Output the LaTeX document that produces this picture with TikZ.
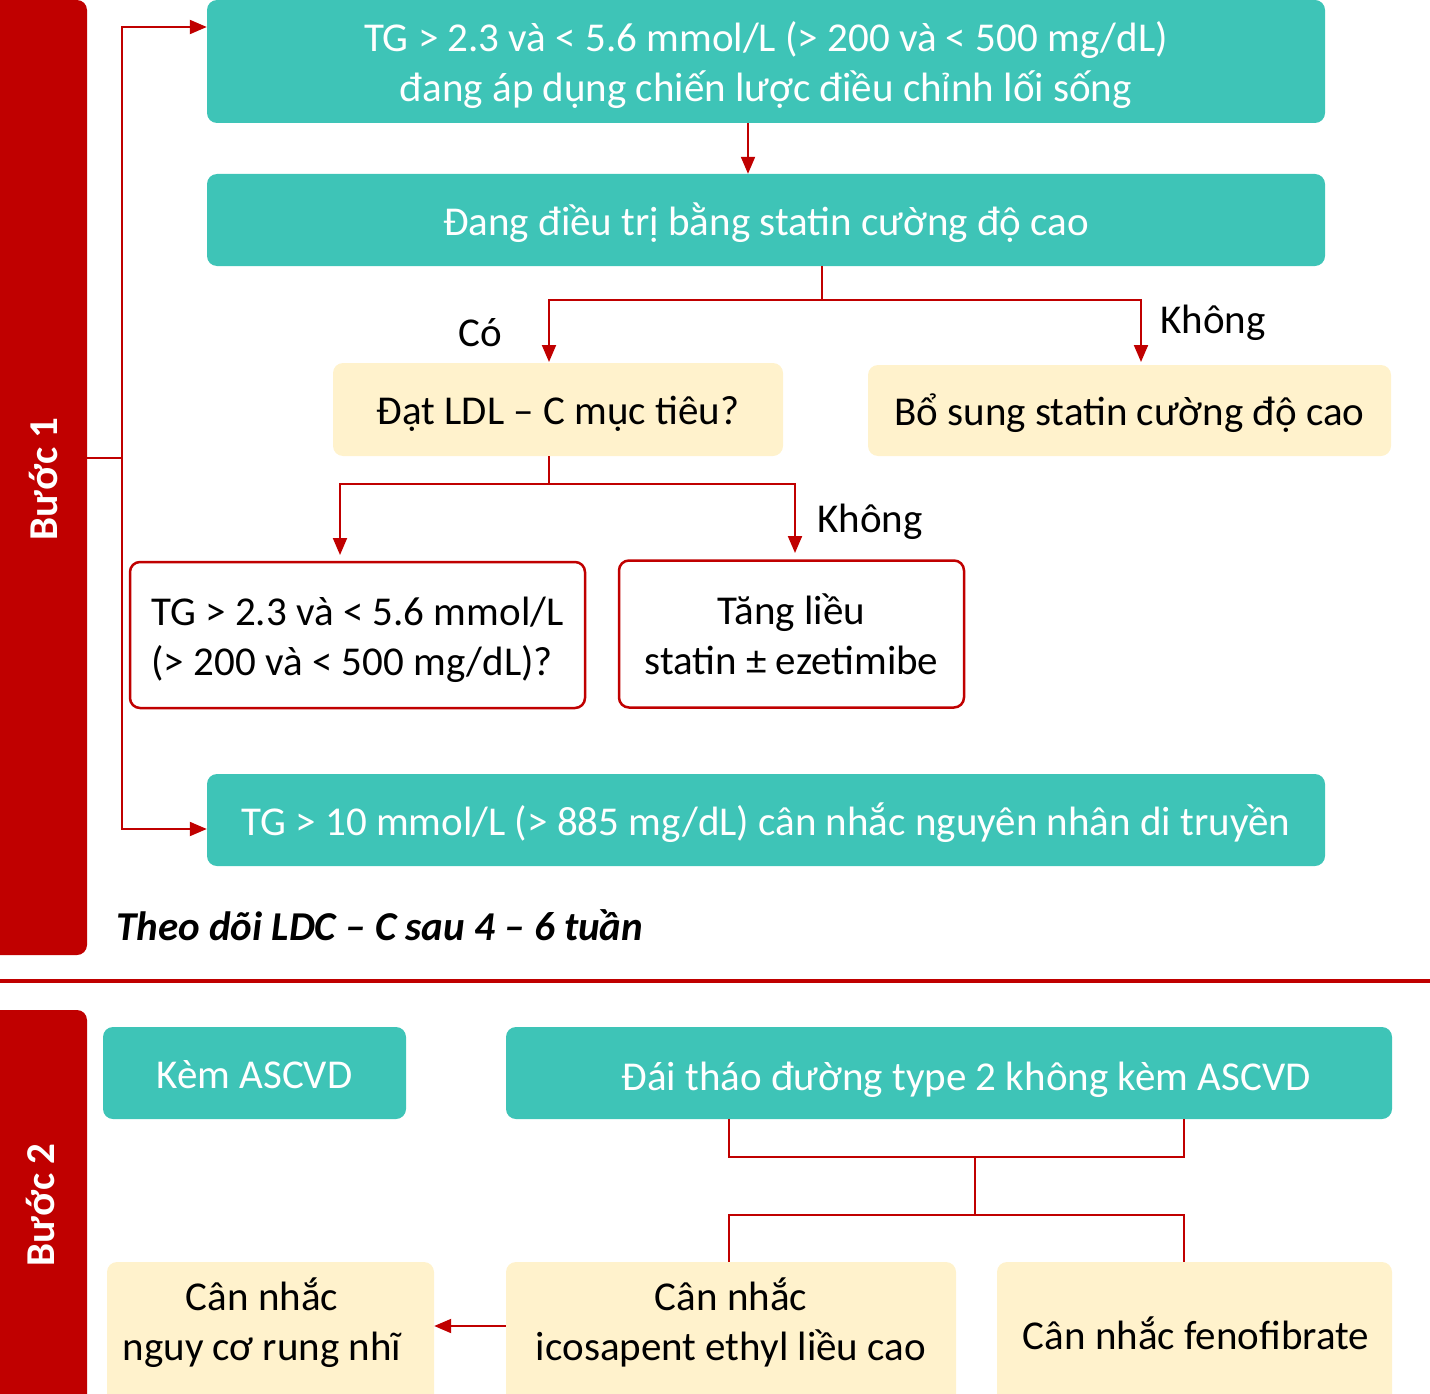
\documentclass[tikz,border=0pt]{standalone}
\usepackage{fontspec}
\setmainfont{Carlito}
\usetikzlibrary{arrows.meta}
\definecolor{teal1}{RGB}{62,196,183}
\definecolor{red1}{RGB}{192,0,0}
\definecolor{cream}{RGB}{255,242,204}
\begin{document}
\begin{tikzpicture}[x=1pt,y=-1pt,font=\fontsize{41}{50}\selectfont,
  box/.style={rectangle, rounded corners=10pt, inner sep=0pt, align=center},
  oneline/.style={text height=38pt, text depth=8pt},
  twoline/.style={text height=88pt, text depth=8pt},
  tealbox/.style={box, fill=teal1, text=white},
  creambox/.style={box, fill=cream, text=black},
  whitebox/.style={box, draw=red1, line width=2.5pt, fill=white},
  conn/.style={draw=red1, line width=2pt},
  arr/.style={conn, -{Triangle[length=17pt,width=14pt]}},
  bar/.style={fill=red1, rounded corners=10pt, inner sep=0pt},
  lbl/.style={inner sep=0pt}]
\useasboundingbox (0,0) rectangle (1430,1394);
\begin{scope}
\clip (0,0) rectangle (1430,1394);
% side bars
\node[bar, minimum width=102pt, minimum height=955pt] (bar1) at (36,477.5) {};
\node[bar, minimum width=102pt, minimum height=400pt] (bar2) at (36,1210) {};
\node[rotate=90, text=white, font=\fontsize{41}{50}\selectfont\bfseries] (b1lbl) at (43,479) {Bước 1};
\node[rotate=90, text=white, font=\fontsize{41}{50}\selectfont\bfseries] (b2lbl) at (40,1205) {Bước 2};

% step 1 boxes
\node[tealbox, twoline, minimum width=1118pt, minimum height=123pt] (t1) at (766,61.5)
  {TG > 2.3 và < 5.6 mmol/L (> 200 và < 500 mg/dL)\\đang áp dụng chiến lược điều chỉnh lối sống};
\node[tealbox, oneline, minimum width=1118pt, minimum height=92pt] (t2) at (766,220)
  {Đang điều trị bằng statin cường độ cao};
\node[creambox, oneline, minimum width=450pt, minimum height=93pt] (y1) at (558,409.5)
  {Đạt LDL – C mục tiêu?};
\node[creambox, oneline, minimum width=523pt, minimum height=91pt] (y2) at (1129.5,410.5)
  {Bổ sung statin cường độ cao};
\node[whitebox, twoline, minimum width=455pt, minimum height=146pt, align=left] (w1) at (357.5,635)
  {TG > 2.3 và < 5.6 mmol/L\\(> 200 và < 500 mg/dL)?};
\node[whitebox, twoline, minimum width=345pt, minimum height=147pt] (w2) at (791.5,634)
  {Tăng liều\\statin ± ezetimibe};
\node[tealbox, oneline, minimum width=1118pt, minimum height=92pt] (t3) at (766,820)
  {TG > 10 mmol/L (> 885 mg/dL) cân nhắc nguyên nhân di truyền};

\node[lbl] (co) at (480,333) {Có};
\node[lbl] (kh1) at (1213,323) {Không};
\node[lbl] (kh2) at (870,522) {Không};
\node[lbl, anchor=west, font=\fontsize{41}{50}\selectfont\bfseries\itshape] (theo) at (116,925)
  {Theo dõi LDC – C sau 4 – 6 tuần};

% step 1 connectors
\coordinate (j1) at (122,458);
\coordinate (a1) at (0,27);
\coordinate (a3) at (0,829);
\draw[conn] (bar1.east |- j1) -- (j1);
\draw[arr] (j1) |- (t1.west |- a1);
\draw[arr] (j1) |- (t3.west |- a3);
\draw[arr] (t1.south -| 748,0) -- (t2.north -| 748,0);
\coordinate (s1) at (822,300);
\draw[conn] (t2.south -| s1) -- (s1);
\draw[arr] (s1) -| (549,362);
\draw[arr] (s1) -| (1141,362);
\coordinate (s2) at (549,484);
\draw[conn] (y1.south -| s2) -- (s2);
\draw[arr] (s2) -| (340,555);
\draw[arr] (s2) -| (795,553);

% separator
\draw[red1, line width=3.5pt] (0,981) -- (1430,981);

% step 2 boxes
\node[tealbox, oneline, minimum width=303pt, minimum height=92pt] (k1) at (254.5,1073) {Kèm ASCVD};
\node[tealbox, minimum width=886pt, minimum height=92pt] (k2) at (949,1073) {};
\node[lbl, text=white, oneline] (k2t) at (966,1075) {Đái tháo đường type 2 không kèm ASCVD};
\node[creambox, minimum width=327pt, minimum height=150pt] (c1) at (270.5,1337) {};
\node[creambox, minimum width=450pt, minimum height=150pt] (c2) at (731,1337) {};
\node[creambox, minimum width=395pt, minimum height=150pt] (c3) at (1194.5,1337) {};
\node[lbl, twoline, align=center] (c1t) at (262,1320) {Cân nhắc\\nguy cơ rung nhĩ};
\node[lbl, twoline, align=center] (c2t) at (731,1320) {Cân nhắc\\icosapent ethyl liều cao};
\node[lbl, oneline] (c3t) at (1196,1334) {Cân nhắc fenofibrate};

% step 2 connectors
\coordinate (u1) at (729,1157);
\coordinate (u2) at (1184,1157);
\coordinate (m1) at (975,1157);
\coordinate (m2) at (975,1215);
\draw[conn] (k2.south -| u1) -- (u1) -- (u2) -- (k2.south -| u2);
\draw[conn] (m1) -- (m2);
\draw[conn] (c2.north -| u1) |- (m2) -| (c3.north -| u2);
\coordinate (h1) at (0,1326);
\draw[arr] (c2.west |- h1) -- (c1.east |- h1);
\end{scope}
\end{tikzpicture}
\end{document}
